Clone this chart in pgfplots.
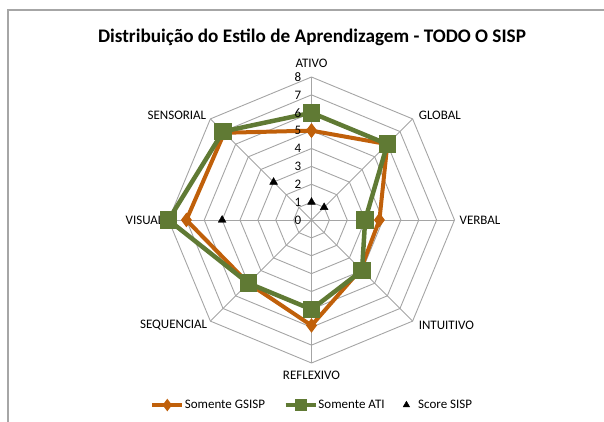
\documentclass[border=0pt]{standalone}
\usepackage{fontspec}
\setmainfont{Carlito}
\usepackage{pgfplots}
\pgfplotsset{compat=1.18}
\usepgfplotslibrary{polar}
\definecolor{gsisp}{RGB}{192,96,10}
\definecolor{ati}{RGB}{96,122,52}
\definecolor{gridc}{RGB}{165,165,165}
\begin{document}
\begin{tikzpicture}[x=1pt,y=1pt]
\useasboundingbox (0pt,0pt) rectangle (604pt,421pt);
\draw[gray!70,line width=1.2pt] (8pt,-10pt) -- (8pt,411pt) -- (620pt,411pt);
\node[font=\fontsize{19.2}{22}\selectfont\bfseries] at (312pt,384pt) {Distribuição do Estilo de Aprendizagem - TODO O SISP};
\begin{polaraxis}[
  at={(311.5pt,201pt)}, anchor=center,
  width=286pt, height=286pt, scale only axis,
  ymin=0, ymax=8, xmin=0, xmax=360,
  hide axis, clip=false,
  legend columns=3,
  legend style={at={(0.5,-0.147)}, anchor=center, draw=none, fill=none,
    font=\fontsize{13}{15}\selectfont, nodes={inner xsep=0.5pt},
    /tikz/every even column/.append style={column sep=18pt}},
]
% grid rings
\pgfplotsinvokeforeach{1,2,3,4,5,6,7,8}{
  \addplot[gridc, line width=0.9pt, forget plot, mark=none] coordinates {(0,#1) (45,#1) (90,#1) (135,#1) (180,#1) (225,#1) (270,#1) (315,#1) (360,#1)};
}
\pgfplotsinvokeforeach{0,45,90,135,180,225,270,315}{
  \addplot[gridc, line width=0.9pt, forget plot, mark=none] coordinates {(#1,0) (#1,8)};
}
% series
\addplot[gsisp, line width=4pt, mark=diamond*, mark size=4pt, mark options={solid,fill=gsisp},
  legend image code/.code={\draw[line width=4pt,mark options={solid,fill=gsisp,scale=0.75},mark repeat=2,mark phase=2] plot coordinates {(0pt,0pt) (15pt,0pt) (30pt,0pt)};}]
  coordinates {(90,5) (45,6) (0,3.8) (315,3.9) (270,5.9) (225,5) (180,7) (135,6.9) (90,5)};
\addlegendentry{Somente GSISP}
\addplot[ati, line width=4.5pt, mark=square*, mark size=6.5pt, mark options={solid,fill=ati},
  legend image code/.code={\draw[line width=4.5pt,mark options={solid,fill=ati,scale=0.6},mark repeat=2,mark phase=2] plot coordinates {(0pt,0pt) (15pt,0pt) (30pt,0pt)};}]
  coordinates {(90,6) (45,6) (0,3) (315,4) (270,5) (225,5) (180,8) (135,7) (90,6)};
\addlegendentry{Somente ATI}
\addplot[only marks, black, mark=triangle*, mark size=4.5pt,
  legend image code/.code={\draw[mark options={scale=0.85},mark repeat=2,mark phase=2] plot coordinates {(0pt,0pt) (14pt,0pt) (28pt,0pt)};}]
  coordinates {(90,1) (45,1) (135,3) (180,5)};
\addlegendentry{\hspace{8pt}Score SISP}
% radial tick labels
\pgfplotsinvokeforeach{0,1,2,3,4,5,6,7,8}{
  \node[anchor=east, font=\fontsize{13}{15}\selectfont, inner sep=0pt, xshift=-10pt] at (axis cs:90,#1) {#1};
}
% category labels
\begin{scope}[every node/.style={font=\fontsize{13}{15}\selectfont, inner sep=0pt}]
\node[anchor=south, yshift=9pt] at (axis cs:90,8) {ATIVO};
\node[anchor=west, xshift=6pt, yshift=4pt] at (axis cs:45,8) {GLOBAL};
\node[anchor=west, xshift=5pt] at (axis cs:0,8) {VERBAL};
\node[anchor=west, xshift=6pt, yshift=-4pt] at (axis cs:315,8) {INTUITIVO};
\node[anchor=north, yshift=-8pt] at (axis cs:270,8) {REFLEXIVO};
\node[anchor=east, xshift=-3pt, yshift=-4pt] at (axis cs:225,8) {SEQUENCIAL};
\node[anchor=east, xshift=-5pt] at (axis cs:180,8) {VISUAL};
\node[anchor=east, xshift=-4pt, yshift=4pt] at (axis cs:135,8) {SENSORIAL};
\end{scope}
\end{polaraxis}
\end{tikzpicture}
\end{document}
